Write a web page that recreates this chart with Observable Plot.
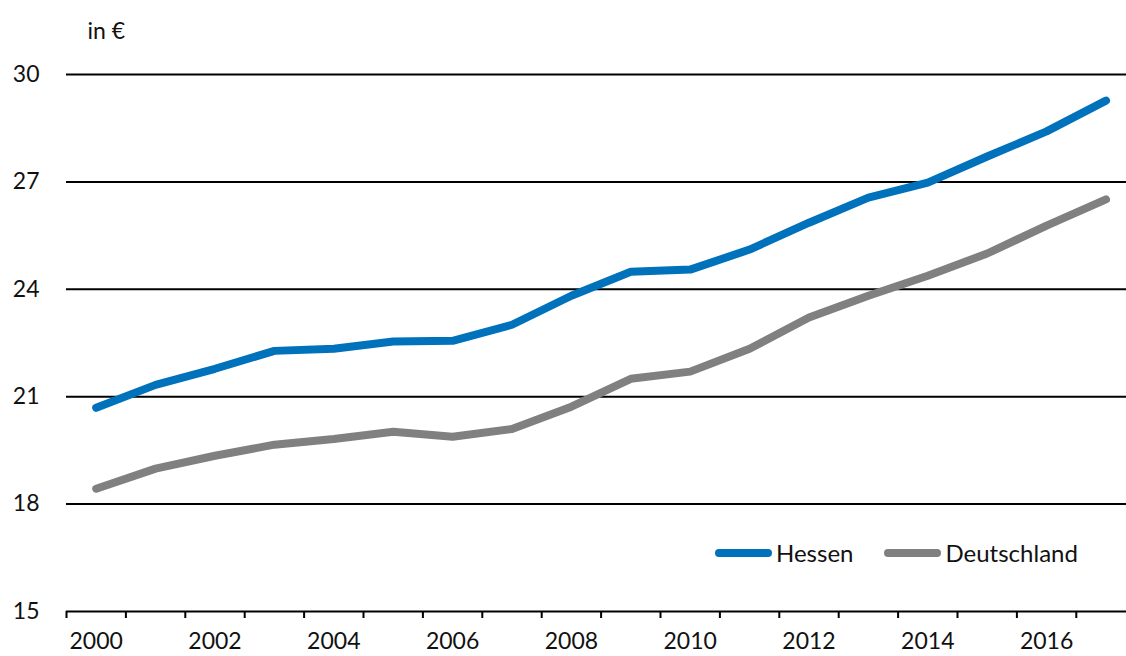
<!DOCTYPE html>
<html>
<head>
<meta charset="utf-8">
<script src="https://cdn.jsdelivr.net/npm/d3@7"></script>
<script src="https://cdn.jsdelivr.net/npm/@observablehq/plot@0.6"></script>
<style>
  html, body { margin: 0; padding: 0; background: #fff; }
  #wrap { position: relative; width: 1126px; height: 656px; font-family: Lato, "Noto Sans", sans-serif; }
  #legend { position: absolute; left: 715px; top: 538px; display: flex; align-items: center; font-size: 24px; color: #111; }
  .item { display: flex; align-items: center; margin-right: 31px; }
  .swatch { width: 57px; height: 8px; border-radius: 4px; margin-right: 4px; }
</style>
</head>
<body>
<div id="wrap"></div>
<script>
const years = [2000,2001,2002,2003,2004,2005,2006,2007,2008,2009,2010,2011,2012,2013,2014,2015,2016,2017];
const hessen = [20.69,21.33,21.78,22.28,22.34,22.54,22.56,23.01,23.82,24.49,24.55,25.11,25.86,26.56,26.98,27.71,28.41,29.27];
const deutschland = [18.43,18.99,19.35,19.66,19.82,20.02,19.88,20.10,20.72,21.50,21.70,22.34,23.21,23.82,24.38,25.00,25.78,26.51];
const seriesNames = ["Hessen", "Deutschland"];
const seriesColors = ["#0072bc", "#808080"];
const yTicks = [15,18,21,24,27,30];
const xLabelYears = [2000,2002,2004,2006,2008,2010,2012,2014,2016];
const unitLabel = "in €";

const data = [];
years.forEach((yr, i) => {
  data.push({year: yr, value: hessen[i], series: seriesNames[0]});
  data.push({year: yr, value: deutschland[i], series: seriesNames[1]});
});

const bandTicks = d3.range(0, years.length).map(i => years[0] - 0.5 + i);

const chart = Plot.plot({
  width: 1126,
  height: 656,
  marginLeft: 66,
  marginRight: 0,
  marginTop: 74,
  marginBottom: 45,
  style: {fontFamily: "Lato, 'Noto Sans', sans-serif", fontSize: "23px", color: "#111"},
  x: {type: "linear", domain: [years[0] - 0.5, years[0] - 0.5 + (1126 - 66) / 59.4]},
  y: {domain: [15, 30]},
  color: {domain: seriesNames, range: seriesColors},
  marks: [
    Plot.ruleY(yTicks, {stroke: "#000", strokeWidth: 2}),
    Plot.axisY({ticks: yTicks, tickSize: 0, tickPadding: 27, label: null, fontSize: 23}),
    Plot.axisX({ticks: bandTicks, tickSize: 7, tickFormat: () => "", label: null, stroke: "#000", strokeWidth: 2}),
    Plot.axisX({ticks: xLabelYears, tickSize: 0, tickPadding: 21, tickFormat: d => String(d), label: null, fontSize: 23}),
    Plot.line(data, {x: "year", y: "value", z: "series", stroke: "series", strokeWidth: 8, strokeLinecap: "round", strokeLinejoin: "round"}),
    Plot.text([unitLabel], {frameAnchor: "top-left", dx: 21, dy: -43, textAnchor: "start", fontSize: 23, fill: "#111", lineAnchor: "middle"})
  ]
});

const wrap = document.getElementById("wrap");
wrap.appendChild(chart);

const legend = document.createElement("div");
legend.id = "legend";
seriesNames.forEach((name, i) => {
  const item = document.createElement("div");
  item.className = "item";
  const sw = document.createElement("div");
  sw.className = "swatch";
  sw.style.background = seriesColors[i];
  const label = document.createElement("span");
  label.textContent = name;
  item.appendChild(sw);
  item.appendChild(label);
  legend.appendChild(item);
});
wrap.appendChild(legend);
</script>
</body>
</html>
